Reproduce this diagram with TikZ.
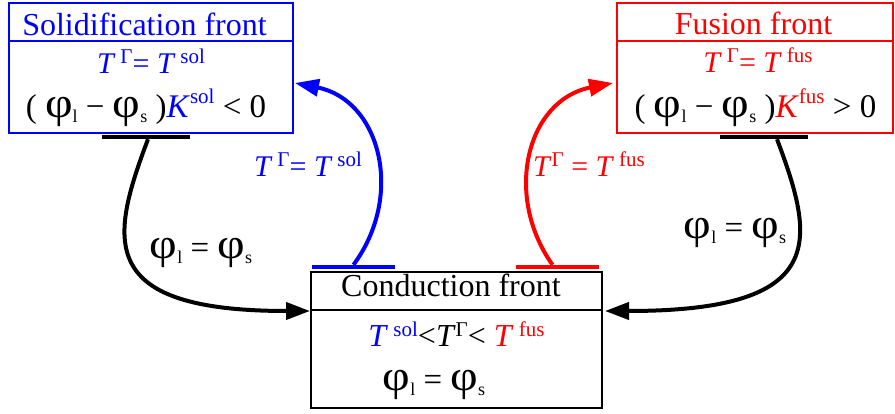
\documentclass[tikz,border=0pt]{standalone}
\usepackage{fontspec}
\usepackage{graphicx}
\setmainfont{Liberation Serif}
\usetikzlibrary{arrows.meta}
\definecolor{pblue}{RGB}{0,0,255}
\definecolor{pred}{RGB}{255,0,0}
\newcommand\Sup[2][10pt]{\raisebox{#1}{\fontsize{21}{21}\selectfont #2}}
\newcommand\Sub[1]{\raisebox{-5pt}{\fontsize{18}{18}\selectfont #1}}
\newcommand\vphi{\scalebox{1.45}[1.3]{φ}}
\begin{document}
\begin{tikzpicture}[x=1pt,y=-1pt,
  box/.style={line width=2.5pt, inner sep=0pt},
  bar/.style={fill, inner sep=0pt, minimum height=4pt},
  conn/.style={line width=4pt, -{Triangle[length=24pt,width=17pt]}},
  txt/.style={inner sep=0pt, anchor=base, font=\fontsize{30}{30}\selectfont},
  big/.style={inner sep=0pt, anchor=base, font=\fontsize{33}{33}\selectfont},
  ttl/.style={inner sep=0pt, anchor=base, font=\fontsize{32}{32}\selectfont}]
\useasboundingbox (0,0) rectangle (895,414);
% boxes
\node[box, draw=pblue, minimum width=284pt, minimum height=130pt] (sbox) at (151,68) {};
\node[box, draw=pred, minimum width=276pt, minimum height=130pt] (fbox) at (755,68) {};
\node[box, draw=black, minimum width=291pt, minimum height=136pt] (cbox) at (456.5,340) {};
\draw[pblue, line width=2.5pt] (sbox.west |- 0,41) -- (sbox.east |- 0,41);
\draw[pred, line width=2.5pt] (fbox.west |- 0,41) -- (fbox.east |- 0,41);
\draw[black, line width=2.5pt] (cbox.west |- 0,310) -- (cbox.east |- 0,310);
% titles
\node[ttl, text=pblue] (stitle) at (144.5,36) {Solidification front};
\node[ttl, text=pred] (ftitle) at (753.5,35) {Fusion front};
\node[ttl] (ctitle) at (451,297) {Conduction front};
% box contents
\node[txt, text=pblue] (sl1) at (151,74) {\textit{T}\,\Sup{Γ}= \textit{T}\,\Sup{sol}};
\node[big] (sl2) at (146,118) {( \vphi\Sub{l} − \vphi\Sub{s} )\textcolor{pblue}{\textit{K}\Sup[14pt]{sol}} < 0};
\node[txt, text=pred] (fl1) at (758,73) {\textit{T}\,\Sup{Γ}= \textit{T}\,\Sup{fus}};
\node[big] (fl2) at (755.5,118) {( \vphi\Sub{l} − \vphi\Sub{s} )\textcolor{pred}{\textit{K}\Sup[14pt]{fus}} > 0};
\node[txt, font=\fontsize{32}{32}\selectfont] (cl1) at (456.5,347) {\textcolor{pblue}{\textit{T}\,\Sup{sol}}<\textit{T}\Sup{Γ}< \textcolor{pred}{\textit{T}\,\Sup{fus}}};
\node[big] (cl2) at (434,390) {\vphi\Sub{l} = \vphi\Sub{s}};
% bars
\node[bar, black, minimum width=88pt] (sbar) at (146,137) {};
\node[bar, black, minimum width=88pt] (fbar) at (764,137) {};
\node[bar, pblue, minimum width=83pt] (bbar) at (353.5,267) {};
\node[bar, pred, minimum width=83pt] (rbar) at (557.5,267) {};
% arrow ends
\coordinate (sin) at (295,83);
\coordinate (fin) at (613,83);
\coordinate (cinl) at (310,311);
\coordinate (cinr) at (605,311);
% connectors
\draw[conn, pblue] (bbar.north) .. controls (405,195) and (380,100) .. (sin);
\draw[conn, pred] ([xshift=-5pt]rbar.north) .. controls (503,195) and (527,100) .. (fin);
\draw[conn, black] ([xshift=2pt]sbar.south) .. controls (110,240) and (95,311) .. (cinl);
\draw[conn, black] ([xshift=13pt]fbar.south) .. controls (815,240) and (830,311) .. (cinr);
% labels
\node[txt, text=pblue] (lb) at (308,177) {\textit{T}\,\Sup{Γ}= \textit{T}\,\Sup{sol}};
\node[txt, text=pred] (lr) at (589,177) {\textit{T}\Sup{Γ} = \textit{T}\,\Sup{fus}};
\node[big] (ll) at (201,259) {\vphi\Sub{l} = \vphi\Sub{s}};
\node[big] (lrr) at (735,239) {\vphi\Sub{l} = \vphi\Sub{s}};
\end{tikzpicture}
\end{document}
